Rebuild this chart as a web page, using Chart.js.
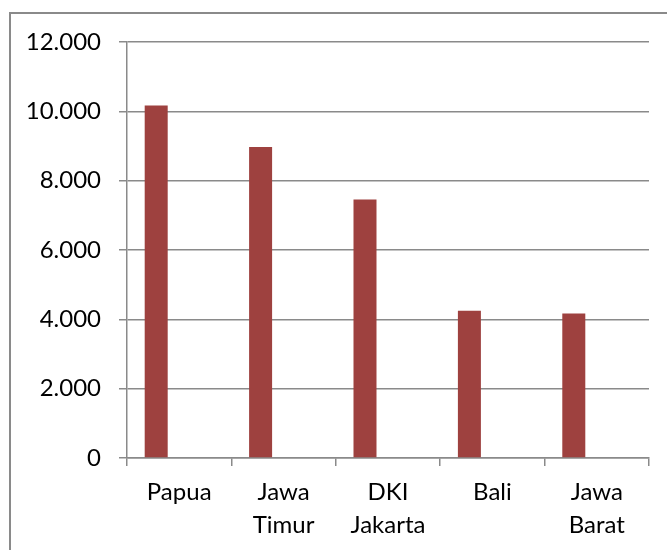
<!DOCTYPE html>
<html>
<head>
<meta charset="utf-8">
<script src="https://cdn.jsdelivr.net/npm/chart.js@4"></script>
<style>
  html, body { margin: 0; padding: 0; background: #fff; }
  #bingkai {
    position: absolute; left: 9px; top: 12px;
    width: 700px; height: 600px;
    border: 2px solid #8a8a8a;
  }
  #grafico { position: absolute; left: 0; top: 0; }
</style>
</head>
<body>
<div id="bingkai"></div>
<canvas id="grafico" width="667" height="550"></canvas>
<script>
// data provinsi
const provinsi = [['Papua'], ['Jawa', 'Timur'], ['DKI', 'Jakarta'], ['Bali'], ['Jawa', 'Barat']]
const nilai = [10170, 8970, 7460, 4250, 4170]
// seri kosong (chart asli punya 3 seri, cuma satu yang terisi)
const seriKosong1 = []
const seriKosong2 = []

const sumbuMin = 0
const sumbuMax = 12000
const langkah = 2000

const warnaGaris = '#8a8a8a'
const fontLabel = { family: 'Lato', size: 24 }

// format angka pakai titik sebagai pemisah ribuan
const formatAngka = (v) => String(v).replace(/\B(?=(\d{3})+(?!\d))/g, '.')

const ctx = document.getElementById('grafico').getContext('2d')
new Chart(ctx, {
    type: 'bar',
    data: {
        labels: provinsi,
        datasets: [
            { data: nilai, backgroundColor: '#9e413f' },
            { data: seriKosong1, backgroundColor: '#9e413f' },
            { data: seriKosong2, backgroundColor: '#9e413f' }
        ]
    },
    options: {
        responsive: false,
        animation: false,
        categoryPercentage: 0.661,
        barPercentage: 1,
        layout: { padding: { top: 42, right: 18, left: 0, bottom: 0 } },
        plugins: {
            legend: { display: false },
            tooltip: { enabled: false }
        },
        scales: {
            x: {
                afterFit: (s) => { s.height = 92 },
                grid: {
                    drawOnChartArea: false,
                    color: warnaGaris,
                    lineWidth: 1.5,
                    tickLength: 8
                },
                border: { color: warnaGaris, width: 1.5 },
                ticks: {
                    color: '#000',
                    font: { ...fontLabel, lineHeight: 1.375 },
                    padding: 10,
                    maxRotation: 0
                }
            },
            y: {
                min: sumbuMin,
                max: sumbuMax,
                afterFit: (s) => { s.width = 127 },
                grid: {
                    color: warnaGaris,
                    lineWidth: 1.5,
                    tickLength: 8
                },
                border: { color: warnaGaris, width: 1.5 },
                ticks: {
                    stepSize: langkah,
                    color: '#000',
                    font: fontLabel,
                    padding: 18,
                    callback: (v) => formatAngka(v)
                }
            }
        }
    }
})
</script>
</body>
</html>
